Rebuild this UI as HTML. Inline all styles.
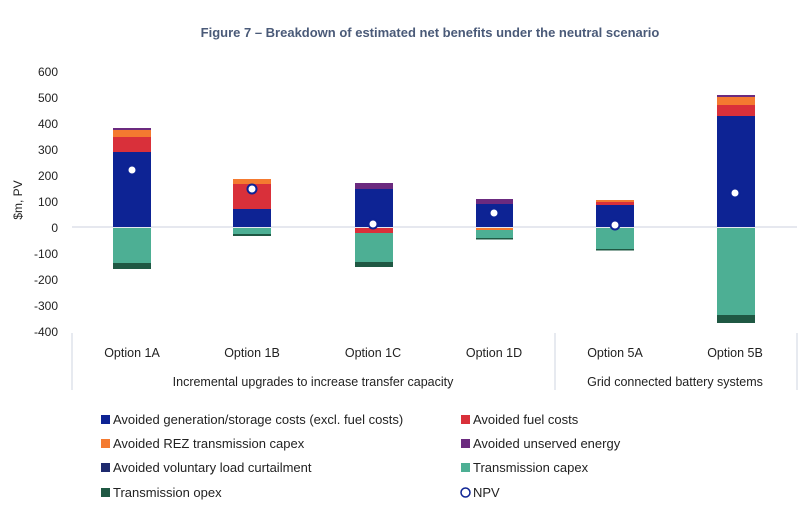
<!DOCTYPE html>
<html><head><meta charset="utf-8"><style>
body{margin:0;background:#fff;}
svg{display:block;font-family:"Liberation Sans",sans-serif;}
</style></head><body>
<svg width="800" height="519" viewBox="0 0 800 519" xmlns="http://www.w3.org/2000/svg">
<text x="430" y="37" text-anchor="middle" font-size="13" font-weight="bold" fill="#4a5a78">Figure 7 – Breakdown of estimated net benefits under the neutral scenario</text>
<g font-size="12" fill="#222" text-anchor="end">
<text x="58" y="76">600</text><text x="58" y="102">500</text><text x="58" y="128">400</text>
<text x="58" y="154">300</text><text x="58" y="180">200</text><text x="58" y="206">100</text>
<text x="58" y="232">0</text><text x="58" y="258">-100</text><text x="58" y="284">-200</text>
<text x="58" y="310">-300</text><text x="58" y="336">-400</text>
</g>
<text transform="translate(22,200) rotate(-90)" text-anchor="middle" font-size="12" fill="#222">$m, PV</text>
<line x1="72" y1="227" x2="797" y2="227" stroke="#dde0ea" stroke-width="1.5"/>
<g stroke="#dfe2ea" stroke-width="1.5">
<line x1="72" y1="333" x2="72" y2="390"/><line x1="555" y1="333" x2="555" y2="390"/><line x1="797" y1="333" x2="797" y2="390"/>
</g>
<rect x="113" y="128" width="38" height="2" fill="#6b2a7f"/>
<rect x="113" y="130" width="38" height="7" fill="#f47a30"/>
<rect x="113" y="137" width="38" height="15" fill="#d9303a"/>
<rect x="113" y="152" width="38" height="75" fill="#0d2394"/>
<rect x="113" y="228" width="38" height="35" fill="#4daf94"/>
<rect x="113" y="263" width="38" height="6" fill="#1f5843"/>
<rect x="233" y="179" width="38" height="5" fill="#f47a30"/>
<rect x="233" y="184" width="38" height="25" fill="#d9303a"/>
<rect x="233" y="209" width="38" height="18" fill="#0d2394"/>
<rect x="233" y="228" width="38" height="6" fill="#4daf94"/>
<rect x="233" y="234" width="38" height="2" fill="#1f5843"/>
<rect x="355" y="183" width="38" height="6" fill="#6b2a7f"/>
<rect x="355" y="189" width="38" height="38" fill="#0d2394"/>
<rect x="355" y="228" width="38" height="5" fill="#d9303a"/>
<rect x="355" y="233" width="38" height="29" fill="#4daf94"/>
<rect x="355" y="262" width="38" height="5" fill="#1f5843"/>
<rect x="476" y="199" width="37" height="5" fill="#6b2a7f"/>
<rect x="476" y="204" width="37" height="23" fill="#0d2394"/>
<rect x="476" y="228" width="37" height="2" fill="#f47a30"/>
<rect x="476" y="230" width="37" height="8" fill="#4daf94"/>
<rect x="476" y="238" width="37" height="1.5" fill="#1f5843"/>
<rect x="596" y="200" width="38" height="2" fill="#f47a30"/>
<rect x="596" y="202" width="38" height="3" fill="#d9303a"/>
<rect x="596" y="205" width="38" height="22" fill="#0d2394"/>
<rect x="596" y="228" width="38" height="21" fill="#4daf94"/>
<rect x="596" y="249" width="38" height="1.5" fill="#1f5843"/>
<rect x="717" y="95" width="38" height="2" fill="#6b2a7f"/>
<rect x="717" y="97" width="38" height="8" fill="#f47a30"/>
<rect x="717" y="105" width="38" height="11" fill="#d9303a"/>
<rect x="717" y="116" width="38" height="111" fill="#0d2394"/>
<rect x="717" y="228" width="38" height="87" fill="#4daf94"/>
<rect x="717" y="315" width="38" height="8" fill="#1f5843"/>
<g fill="#fff" stroke="#0d2394" stroke-width="2">
<circle cx="132" cy="170" r="4.5"/><circle cx="252" cy="189" r="4.5"/><circle cx="373" cy="224" r="4.5"/>
<circle cx="494" cy="213" r="4.5"/><circle cx="615" cy="225" r="4.5"/><circle cx="735" cy="193" r="4.5"/>
</g>
<g font-size="12.5" fill="#222" text-anchor="middle">
<text x="132" y="357">Option 1A</text><text x="252" y="357">Option 1B</text><text x="373" y="357">Option 1C</text>
<text x="494" y="357">Option 1D</text><text x="615" y="357">Option 5A</text><text x="735" y="357">Option 5B</text>
<text x="313" y="386">Incremental upgrades to increase transfer capacity</text>
<text x="675" y="386">Grid connected battery systems</text>
</g>
<g font-size="13" fill="#222">
<rect x="101" y="415" width="9" height="9" fill="#0d2394"/><text x="113" y="424">Avoided generation/storage costs (excl. fuel costs)</text>
<rect x="101" y="439" width="9" height="9" fill="#f47a30"/><text x="113" y="448">Avoided REZ transmission capex</text>
<rect x="101" y="463" width="9" height="9" fill="#1e2a6e"/><text x="113" y="472">Avoided voluntary load curtailment</text>
<rect x="101" y="488" width="9" height="9" fill="#1f5843"/><text x="113" y="497">Transmission opex</text>
<rect x="461" y="415" width="9" height="9" fill="#d9303a"/><text x="473" y="424">Avoided fuel costs</text>
<rect x="461" y="439" width="9" height="9" fill="#6b2a7f"/><text x="473" y="448">Avoided unserved energy</text>
<rect x="461" y="463" width="9" height="9" fill="#4daf94"/><text x="473" y="472">Transmission capex</text>
<circle cx="465.5" cy="492.5" r="4.5" fill="#fff" stroke="#0d2394" stroke-width="1.5"/><text x="473" y="497">NPV</text>
</g>
</svg>
</body></html>
